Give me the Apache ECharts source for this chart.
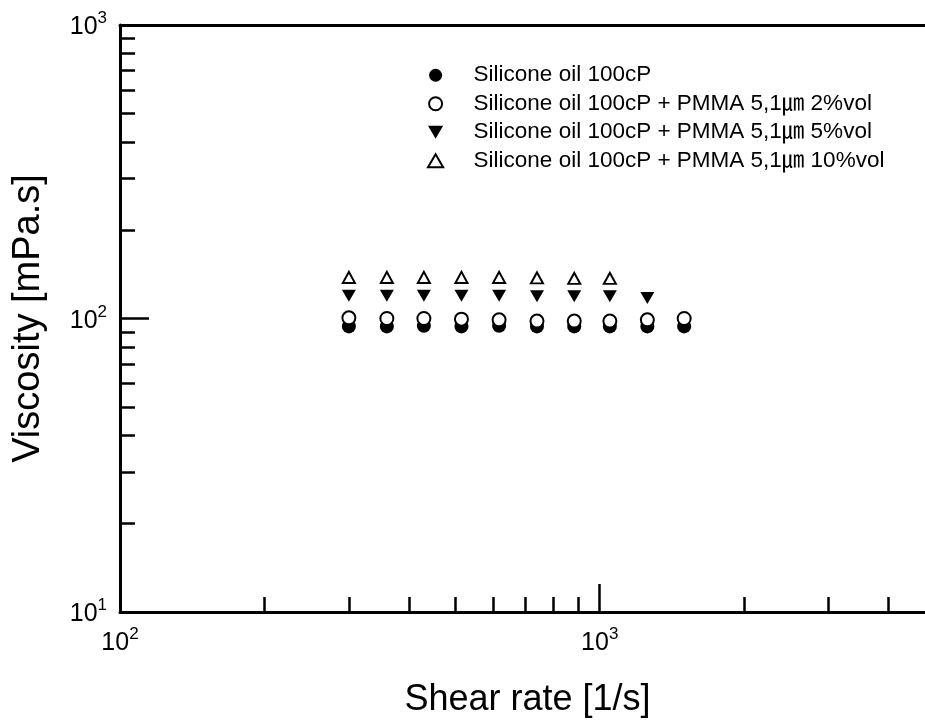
<!DOCTYPE html>
<html>
<head>
    <meta http-equiv="Content-Type" content="text/html; charset=utf-8">
    <title>Viscosity vs shear rate</title>
    <style>
        html, body { margin: 0; padding: 0; background: #fff; }
        #chart_main { width: 925px; height: 721px; }
    </style>
</head>
<body>
    <div id="chart_main"></div>
    <script src="https://cdn.jsdelivr.net/npm/echarts@6/dist/echarts.min.js"></script>
    <script>
        // data
        var shearRate = [300, 360, 430, 515, 617, 740, 885, 1050, 1257, 1500];
        var visc_oil = [94, 94, 94.5, 94, 94.5, 94, 94, 94, 94, 94];
        var visc_2vol = [100.5, 100, 100, 99.5, 99, 98, 98, 98, 99, 100];
        var visc_5vol = [119.5, 119.5, 119.5, 119.5, 119.5, 119, 119, 119, 117.5];
        var visc_10vol = [138, 138, 138, 138, 138, 137.5, 137, 137];
        var seriesNames = [
            'Silicone oil 100cP',
            'Silicone oil 100cP + PMMA 5,1㎛ 2%vol',
            'Silicone oil 100cP + PMMA 5,1㎛ 5%vol',
            'Silicone oil 100cP + PMMA 5,1㎛ 10%vol'
        ];
        var xMajor = [100, 1000];
        var xMinor = [200, 300, 400, 500, 600, 700, 800, 900, 2000, 3000, 4000];
        var yMajor = [10, 100, 1000];
        var yMinor = [20, 30, 40, 50, 60, 70, 80, 90, 200, 300, 400, 500, 600, 700, 800, 900];

        var FONT = '"Liberation Sans", Arial, sans-serif';

        function pairs(xs, ys) {
            var out = [];
            for (var i = 0; i < ys.length; i++) {
                out.push([xs[i], ys[i]]);
            }
            return out;
        }

        // 10^n as rich text
        function powLabel(value) {
            var e = Math.round(Math.log10(value));
            return '{b|10}{s|' + e + '}';
        }

        var labelRich = {
            b: { fontFamily: FONT, fontSize: 25, color: '#000', lineHeight: 30, verticalAlign: 'bottom' },
            s: { fontFamily: FONT, fontSize: 17, color: '#000', lineHeight: 18, verticalAlign: 'top' }
        };

        var myChart = echarts.init(document.getElementById('chart_main'));

        var option = {
            backgroundColor: '#fff',
            animation: false,
            // plot runs a little past the right edge of the picture (x max 5000)
            grid: { left: 120, right: -10, top: 25, bottom: 109, outerBoundsMode: 'none' },
            legend: {
                orient: 'vertical',
                left: 422,
                top: 59,
                itemWidth: 66,
                itemHeight: 13,
                itemGap: 6,
                textStyle: { fontFamily: FONT + ', "Noto Sans CJK KR"', fontSize: 22.5, lineHeight: 22, color: '#000' },
                data: seriesNames
            },
            xAxis: [{
                type: 'log',
                min: 100,
                max: 5000,
                position: 'bottom',
                name: 'Shear rate [1/s]',
                nameLocation: 'middle',
                nameGap: 70,
                nameTextStyle: { fontFamily: FONT, fontSize: 36, color: '#000' },
                axisLine: { lineStyle: { color: '#000', width: 3 } },
                axisTick: { inside: true, length: 28, lineStyle: { color: '#000', width: 2.5 }, customValues: xMajor },
                axisLabel: { customValues: xMajor, formatter: powLabel, rich: labelRich, margin: 14 },
                splitLine: { show: false }
            }, {
                type: 'log',
                min: 100,
                max: 5000,
                position: 'bottom',
                axisLine: { show: false },
                axisTick: { inside: true, length: 15, lineStyle: { color: '#000', width: 2.5 }, customValues: xMinor },
                axisLabel: { show: false },
                splitLine: { show: false }
            }, {
                type: 'log',
                min: 100,
                max: 5000,
                position: 'top',
                axisLine: { lineStyle: { color: '#000', width: 3 } },
                axisTick: { show: false },
                axisLabel: { show: false },
                splitLine: { show: false }
            }],
            yAxis: [{
                type: 'log',
                min: 10,
                max: 1000,
                position: 'left',
                name: 'Viscosity [mPa.s]',
                nameLocation: 'middle',
                nameGap: 72,
                nameTextStyle: { fontFamily: FONT, fontSize: 38, color: '#000' },
                axisLine: { lineStyle: { color: '#000', width: 3 } },
                axisTick: { inside: true, length: 29, lineStyle: { color: '#000', width: 2.5 }, customValues: yMajor },
                axisLabel: { customValues: yMajor, formatter: powLabel, rich: labelRich, margin: 13 },
                splitLine: { show: false }
            }, {
                type: 'log',
                min: 10,
                max: 1000,
                position: 'left',
                axisLine: { show: false },
                axisTick: { inside: true, length: 15, lineStyle: { color: '#000', width: 2.5 }, customValues: yMinor },
                axisLabel: { show: false },
                splitLine: { show: false }
            }],
            series: [{
                name: seriesNames[0],
                type: 'scatter',
                symbol: 'circle',
                symbolSize: 14,
                itemStyle: { color: '#000', opacity: 1 },
                data: pairs(shearRate, visc_oil)
            }, {
                name: seriesNames[1],
                type: 'scatter',
                symbol: 'circle',
                symbolSize: 13,
                itemStyle: { color: '#fff', borderColor: '#000', borderWidth: 2, opacity: 1 },
                data: pairs(shearRate, visc_2vol)
            }, {
                name: seriesNames[2],
                type: 'scatter',
                symbol: 'path://M0,0L14,0L7,12Z',
                symbolSize: [14, 12],
                itemStyle: { color: '#000', opacity: 1 },
                data: pairs(shearRate, visc_5vol)
            }, {
                name: seriesNames[3],
                type: 'scatter',
                symbol: 'path://M7,0L14,12L0,12Z',
                symbolSize: [12, 11],
                itemStyle: { color: '#fff', borderColor: '#000', borderWidth: 2, opacity: 1 },
                data: pairs(shearRate, visc_10vol)
            }]
        };

        myChart.setOption(option);
    </script>
</body>
</html>
